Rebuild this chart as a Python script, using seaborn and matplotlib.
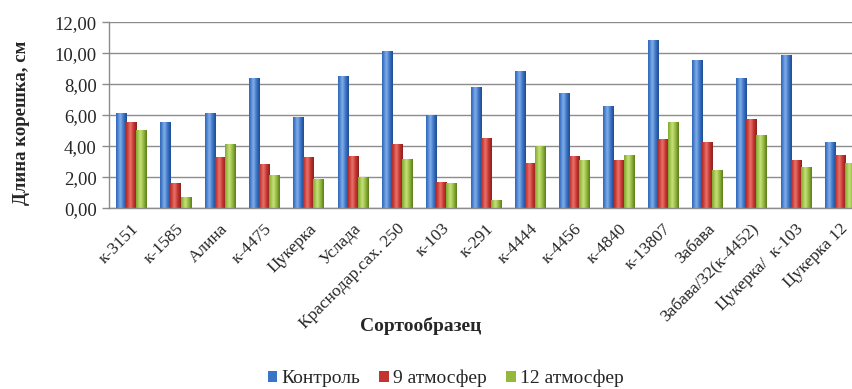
import numpy as np
import pandas as pd
import matplotlib
matplotlib.use("Agg")
import matplotlib.pyplot as plt
from matplotlib.colors import LinearSegmentedColormap
from matplotlib.patches import Patch
from matplotlib.ticker import FuncFormatter, FixedLocator
import seaborn as sns

categories = ["к-3151", "к-1585", "Алина", "к-4475", "Цукерка", "Услада",
              "Краснодар.сах. 250", "к-103", "к-291", "к-4444", "к-4456",
              "к-4840", "к-13807", "Забава", "Забава/32(к-4452)",
              "Цукерка/  к-103", "Цукерка 12"]
control = [6.17, 5.55, 6.17, 8.39, 5.89, 8.52, 10.15, 5.98, 7.81, 8.82, 7.42,
           6.56, 10.84, 9.57, 8.37, 9.85, 4.28]
atm9 = [5.55, 1.61, 3.27, 2.86, 3.29, 3.35, 4.11, 1.66, 4.54, 2.88, 3.35,
        3.08, 4.47, 4.28, 5.74, 3.12, 3.46]
atm12 = [5.07, 0.73, 4.11, 2.15, 1.91, 2.02, 3.18, 1.61, 0.52, 4.02, 3.08,
         3.46, 5.57, 2.49, 4.69, 2.67, 2.88]
series = ["Контроль", "9 атмосфер", "12 атмосфер"]

base_colors = ["#3A74C6", "#C5342F", "#92B83C"]
shades = {
    "Контроль": ("#1F4B8E", "#3A74C6", "#84B0EA"),
    "9 атмосфер": ("#88211D", "#C5342F", "#EA746D"),
    "12 атмосфер": ("#5B7C1C", "#92B83C", "#C8E17C"),
}

df = pd.DataFrame({
    "Сорт": categories * 3,
    "Серия": sum([[s] * len(categories) for s in series], []),
    "Длина": control + atm9 + atm12,
})

sns.set_style("white")
plt.rcParams["font.family"] = ["Liberation Serif", "DejaVu Serif"]

fig = plt.figure(figsize=(8.52, 3.89), dpi=100)
ax = fig.add_axes([0.128, 0.465, 0.872, 0.478])

sns.barplot(data=df, x="Сорт", y="Длина", hue="Серия", hue_order=series,
            palette=base_colors, width=0.68, errorbar=None, ax=ax,
            linewidth=0, saturation=1, legend=False)

# cylinder-like horizontal shading clipped to every bar
grad_x = np.linspace(0, 1, 64)
profile = np.clip(1 - np.abs(grad_x - 0.4) / 0.6, 0, 1)
for s_i, s in enumerate(series):
    dark, mid, light = shades[s]
    cmap = LinearSegmentedColormap.from_list(s, [dark, mid, light])
    for patch in ax.containers[s_i]:
        x0 = patch.get_x()
        w = patch.get_width()
        h = patch.get_height()
        im = ax.imshow(profile[np.newaxis, :], cmap=cmap, vmin=0, vmax=1,
                       extent=(x0, x0 + w, 0, h), aspect="auto",
                       interpolation="bicubic", zorder=patch.get_zorder() + 0.1)
        im.set_clip_path(patch)

ax.set_xlim(-0.5, 16.27)
ax.set_ylim(0, 12)
ax.set_yticks(np.arange(0, 12.01, 2))
ax.yaxis.set_major_formatter(FuncFormatter(lambda v, p: f"{v:.2f}".replace(".", ",")))
ax.yaxis.grid(True, color="#8C8C8C", linewidth=1)
ax.set_axisbelow(True)

ax.set_xticks(range(len(categories)))
ax.set_xticklabels(categories, rotation=45, ha="right", rotation_mode="anchor",
                   fontsize=12.5)
ax.xaxis.set_minor_locator(FixedLocator(np.arange(-0.5, 17, 1)))
ax.tick_params(axis="x", which="major", length=0, pad=9)
ax.tick_params(axis="x", which="minor", length=5, color="#8C8C8C", width=1)
ax.tick_params(axis="y", length=5, color="#8C8C8C", width=1, labelsize=13.5,
               left=True, pad=4)

for side in ["top", "right"]:
    ax.spines[side].set_visible(False)
for side in ["left", "bottom"]:
    ax.spines[side].set_color("#8C8C8C")
    ax.spines[side].set_linewidth(1)

ax.set_xlabel("Сортообразец", fontsize=14, fontweight="bold")
ax.xaxis.set_label_coords(0.42, -0.586)
ax.set_ylabel("Длина корешка, см", fontsize=13.5, fontweight="bold")
ax.yaxis.set_label_coords(-0.107, 0.46)

handles = [Patch(facecolor=c, edgecolor="none") for c in base_colors]
fig.legend(handles, series, loc="center", bbox_to_anchor=(0.523, 0.027), ncol=3,
           frameon=False, fontsize=14, handlelength=0.5, handleheight=0.5,
           handletextpad=0.2, columnspacing=1.0)

fig.savefig("out.png", dpi=100)
